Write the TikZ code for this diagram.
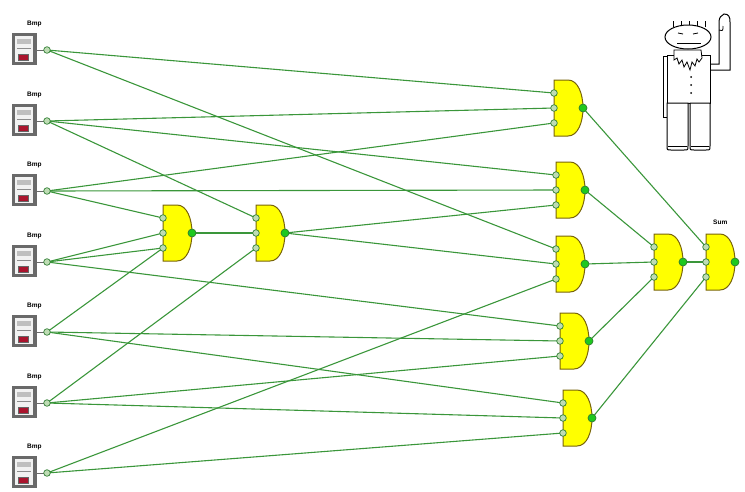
\documentclass[tikz,border=0pt]{standalone}
\usepackage{fontspec}
\newfontfamily\lab{Liberation Sans}
\pgfdeclarelayer{wires}
\pgfsetlayers{wires,main}
\definecolor{wire}{RGB}{58,150,58}
\definecolor{gatefill}{RGB}{255,255,0}
\definecolor{gateline}{RGB}{120,100,10}
\definecolor{pinfill}{RGB}{190,220,180}
\definecolor{pinline}{RGB}{46,125,50}
\definecolor{outfill}{RGB}{30,200,30}
\definecolor{boxgray}{RGB}{105,105,105}
\definecolor{boxred}{RGB}{170,20,45}
\tikzset{
  wireline/.style={draw=wire,line width=1.1pt},
  gatebody/.style={fill=gatefill,draw=gateline,line width=1pt},
  inpin/.style={fill=pinfill,draw=pinline,line width=0.7pt},
  outpin/.style={fill=outfill,draw=pinline,line width=0.7pt},
  pinlabel/.style={font=\lab\bfseries\fontsize{6.5}{7}\selectfont,anchor=west,inner sep=0pt},
  figline/.style={draw=black,line width=1pt,fill=white}
}
% pin coordinates of a three-input gate: left edge x, middle input y
\newcommand\placegate[3]{%
  \begin{scope}[shift={(#2,#3)}]
    \coordinate (#1-i1) at (0,-15);
    \coordinate (#1-i2) at (0,0);
    \coordinate (#1-i3) at (0,15);
    \coordinate (#1-o) at (29,0);
  \end{scope}}
% body and pins of a gate placed with \placegate
\newcommand\drawgate[1]{%
  \begin{scope}[shift={(#1-i2)}]
    \path[gatebody] (0,-28) -- (14,-28) .. controls (24,-28) and (29,-14) .. (29,0)
      .. controls (29,14) and (24,28) .. (14,28) -- (0,28) -- cycle;
  \end{scope}
  \foreach \p in {i1,i2,i3}{\path[inpin] (#1-\p) circle (3.3pt);}
  \path[outpin] (#1-o) circle (4pt);}
% switch box with its label and output pin at height #2
\newcommand\inputbox[2]{%
  \begin{scope}[shift={(0,#2)}]
    \path[fill=boxgray] (12,-17) rectangle (37,15);
    \path[fill=white!95!black] (15,-14) rectangle (33,12);
    \path[fill=black!25] (17,-11) rectangle (31,-6);
    \draw[black!45,line width=0.8pt] (17,-2) -- (31,-2);
    \path[fill=boxred,draw=black!60,line width=0.5pt] (18,4) rectangle (28,10);
    \draw[boxgray,line width=1pt] (37,0) -- (44,0);
    \node[pinlabel] at (27,-26) {Bmp};
  \end{scope}
  \coordinate (#1) at (47,#2);
  \path[inpin] (#1) circle (3.3pt);}
\begin{document}
\begin{tikzpicture}[x=1pt,y=-1pt]
\useasboundingbox (0,0) rectangle (745,491);

% gate positions
\placegate{ga}{163}{233}
\placegate{gb}{256}{233}
\placegate{ra}{554}{108}
\placegate{rb}{556}{190}
\placegate{rc}{556}{264}
\placegate{rd}{560}{341}
\placegate{re}{563}{418}
\placegate{fa}{654}{262}
\placegate{fb}{706}{262}

% inputs
\inputbox{in1}{50}
\inputbox{in2}{121}
\inputbox{in3}{191}
\inputbox{in4}{262}
\inputbox{in5}{332}
\inputbox{in6}{403}
\inputbox{in7}{473}

% connections
\begin{pgfonlayer}{wires}
  \draw[wireline] (in1) -- (ra-i1);
  \draw[wireline] (in1) -- (rc-i1);
  \draw[wireline] (in2) -- (ra-i2);
  \draw[wireline] (in2) -- (rb-i1);
  \draw[wireline] (in2) -- (gb-i1);
  \draw[wireline] (in3) -- (ra-i3);
  \draw[wireline] (in3) -- (rb-i2);
  \draw[wireline] (in3) -- (ga-i1);
  \draw[wireline] (in4) -- (ga-i2);
  \draw[wireline] (in4) -- (ga-i3);
  \draw[wireline] (in4) -- (rd-i1);
  \draw[wireline] (in5) -- (ga-i3);
  \draw[wireline] (in5) -- (rd-i2);
  \draw[wireline] (in5) -- (re-i1);
  \draw[wireline] (in6) -- (gb-i3);
  \draw[wireline] (in6) -- (rd-i3);
  \draw[wireline] (in6) -- (re-i2);
  \draw[wireline] (in7) -- (rc-i3);
  \draw[wireline] (in7) -- (re-i3);
  \draw[wireline] (ga-o) -- (gb-i2);
  \draw[wireline] (gb-o) -- (rb-i3);
  \draw[wireline] (gb-o) -- (rc-i2);
  \draw[wireline] (ra-o) -- (fb-i1);
  \draw[wireline] (rb-o) -- (fa-i1);
  \draw[wireline] (rc-o) -- (fa-i2);
  \draw[wireline] (rd-o) -- (fa-i3);
  \draw[wireline] (re-o) -- (fb-i3);
  \draw[wireline] (fa-o) -- (fb-i2);
\end{pgfonlayer}

% gates
\foreach \g in {ga,gb,ra,rb,rc,rd,re,fa,fb}{\drawgate{\g}}
\node[pinlabel] (sumlabel) at (713,222) {Sum};

% figure with raised hand
\begin{scope}
  % left arm
  \path[figline] (663,56) rectangle (670,117);
  % raised right arm
  \path[figline] (708,64) -- (719,64) -- (719,22) .. controls (719,18) and (721,15) .. (724,14)
    .. controls (729,14) and (730,17) .. (730,22) -- (730,70) -- (708,70) -- cycle;
  \draw[black,line width=0.8pt] (719,30) .. controls (723,31) .. (723,26);
  % body
  \path[figline] (667,55) rectangle (710,103);
  % legs
  \path[figline] (667,103) -- (688,103) -- (688,146) .. controls (688,150) .. (684,150)
    -- (671,150) .. controls (667,150) .. (667,146) -- cycle;
  \path[figline] (690,103) -- (710,103) -- (710,146) .. controls (710,150) .. (706,150)
    -- (694,150) .. controls (690,150) .. (690,146) -- cycle;
  \draw[black,line width=0.8pt] (668,146) -- (687,146) (691,146) -- (709,146);
  % beard
  \path[figline,line width=0.8pt] (674,50) -- (701,50) -- (702,58) -- (699,62) -- (697,59) -- (695,66)
    -- (692,62) -- (690,70) -- (687,62) -- (684,67) -- (682,60) -- (679,64) -- (677,58) -- (674,60) -- cycle;
  % buttons
  \foreach \yy in {77,85,93}{\fill (691,\yy) circle (1pt);}
  % hair
  \foreach \xx in {673,681,689,697,705}{\draw[black,line width=1pt] (\xx,21) -- (\xx,27);}
  % head
  \path[figline] (688,37) ellipse [x radius=23pt, y radius=12pt];
  \draw[black,line width=0.8pt] (678,33) -- (683,34) (693,34) -- (698,33);
  \draw[black,line width=0.8pt] (677,43) -- (701,43);
\end{scope}
\end{tikzpicture}
\end{document}
